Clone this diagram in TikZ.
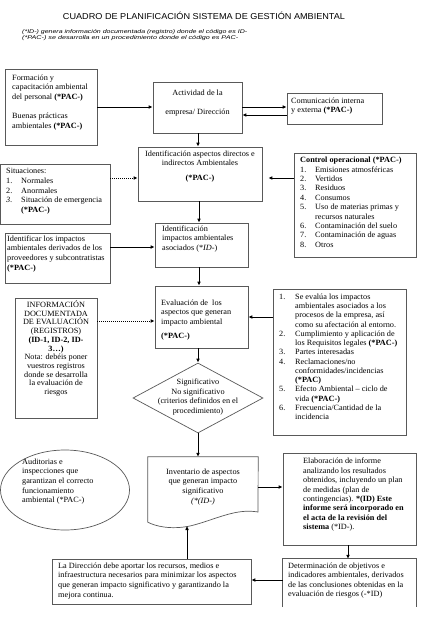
\documentclass[tikz,border=0pt]{standalone}
\usepackage{fontspec}
\usepackage{graphicx}
\setmainfont{Liberation Serif}[FakeStretch=1.03]
\newfontfamily\titlefont{Liberation Sans}
\usetikzlibrary{arrows.meta,shapes.geometric,calc}
\newcommand\lstnum[1]{\makebox[15pt][l]{#1}}
\newcommand\lstind{\hspace*{15pt}}
\newcommand\lstnumb[1]{\makebox[16pt][l]{#1}}
\newcommand\lstindb{\hspace*{16pt}}
\tikzset{
  x=1pt,y=-1pt,
  box/.style={draw=black!65,line width=0.7pt,inner sep=0pt},
  boxline/.style={draw=black!65,line width=0.7pt},
  txt/.style={inner sep=0pt,anchor=north west,align=left,font=\fontsize{8}{9.6}\selectfont},
  ctxt/.style={inner sep=0pt,align=center,font=\fontsize{8}{9.6}\selectfont},
  arr/.style={-{Latex[length=4pt,width=3.8pt]},line width=1pt},
  darr/.style={arr,dash pattern=on 1pt off 1pt},
}
\begin{document}
\begin{tikzpicture}
\useasboundingbox (0,0) rectangle (433,640);
\fill[white] (0,0) rectangle (433,640);

% title and notes
\node (title) at (204,15.5) {\resizebox{282pt}{\height}{\titlefont\fontsize{8.6}{10}\selectfont CUADRO DE PLANIFICACIÓN SISTEMA DE GESTIÓN AMBIENTAL}};
\node[inner sep=0pt,anchor=west] (note1) at (22,32.5) {\resizebox{225pt}{\height}{\titlefont\itshape\fontsize{5.4}{6}\selectfont (*ID-) genera información documentada (registro) donde el código es ID-}};
\node[inner sep=0pt,anchor=west] (note2) at (22,38.5) {\resizebox{216pt}{\height}{\titlefont\itshape\fontsize{5.4}{6}\selectfont (*PAC-) se desarrolla en un procedimiento donde el código es PAC-}};

% boxes
\node[box,minimum width=92pt,minimum height=76pt] (b1) at (51,107) {};
\node[box,minimum width=89pt,minimum height=51pt] (b2) at (197.5,107.5) {};
\node[box,minimum width=95pt,minimum height=31pt] (b3) at (334.5,108.5) {};
\node[box,minimum width=124pt,minimum height=54pt] (b4) at (200,174) {};
\node[box,minimum width=109.5pt,minimum height=60pt] (sit) at (55.25,194) {};
\node[box,minimum width=122pt,minimum height=104pt] (ctrl) at (355,205) {};
\node[box,minimum width=93pt,minimum height=44pt] (b5) at (201.5,245) {};
\node[box,minimum width=105pt,minimum height=50pt] (ident) at (57.5,258) {};
\node[box,minimum width=93pt,minimum height=62pt] (b6) at (201.5,317) {};
\node[box,minimum width=82pt,minimum height=120pt] (info) at (56,358) {};
\node[box,minimum width=133pt,minimum height=146pt] (list) at (339.5,362) {};
\node[box,diamond,minimum width=130pt,minimum height=70pt] (dia) at (198,398) {};
\node[box,ellipse,minimum width=129pt,minimum height=80pt] (aud) at (65,490) {};
\node[inner sep=0pt,minimum width=110pt,minimum height=65pt] (inv) at (203,489.5) {};
\draw[boxline] (inv.north west) -- (inv.north east) -- (258,512)
  .. controls (235,508) and (215,520) .. (190,526)
  .. controls (170,530) and (155,526) .. (inv.south west) -- cycle;
\coordinate (invb) at (187,526);
\node[box,minimum width=133pt,minimum height=92pt] (elab) at (349.5,499) {};
\node[inner sep=0pt,minimum width=133pt,minimum height=48pt] (det) at (349.5,583) {};
\draw[boxline] (det.south west) -- (det.north west) -- (det.north east) -- (det.south east);
\node[box,minimum width=199pt,minimum height=45pt] (dir) at (151.5,581.5) {};

% texts
\node[txt] (t1) at (12,74.5) {Formación y\\capacitación ambiental\\del personal \textbf{(*PAC-)}\\[9.6pt]Buenas prácticas\\ambientales \textbf{(*PAC-)}};
\node[ctxt] (t2) at (197.5,103.5) {Actividad de la\\[9.4pt]empresa/ Dirección};
\node[txt,anchor=west] (t3) at (291,106) {Comunicación interna\\y externa \textbf{(*PAC-)}};
\node[ctxt,anchor=north] (t4) at (200,150.5) {Identificación aspectos directos e\\indirectos Ambientales\\[5pt]\textbf{(*PAC-)}};
\node[txt] (tsit) at (6,168.5) {Situaciones:\\\lstnum{1.}Normales\\\lstnum{2.}Anormales\\\lstnum{\textit{3.}}Situación de emergencia\\\lstind\textbf{(*PAC-)}};
\node[txt,font=\fontsize{8}{9.4}\selectfont] (tctrl) at (300,157) {\textbf{Control operacional (*PAC-)}\\\lstnum{1.}Emisiones atmosféricas\\\lstnum{2.}Vertidos\\\lstnum{3.}Residuos\\\lstnum{4.}Consumos\\\lstnum{5.}Uso de materias primas y\\\lstind recursos naturales\\\lstnum{6.}Contaminación del suelo\\\lstnum{7.}Contaminación de aguas\\\lstnum{8.}Otros};
\node[txt] (t5) at (162,225.5) {Identificación\\impactos ambientales\\asociados (*\textit{ID-})};
\node[txt] (tident) at (7,235.5) {Identificar los impactos\\ambientales derivados de los\\proveedores y subcontratistas\\\textbf{(*PAC-)}};
\node[txt] (t6) at (161,299.5) {Evaluación de\ \ los\\aspectos que generan\\impacto ambiental\\[4.4pt]\textbf{(*PAC-)}};
\node[ctxt,anchor=north,font=\fontsize{8}{8.7}\selectfont] (tinfo) at (56,300.5) {INFORMACIÓN\\DOCUMENTADA\\DE EVALUACIÓN\\(REGISTROS)\\\textbf{(ID-1, ID-2, ID-}\\\textbf{3…)}\\Nota: debéis poner\\vuestros registros\\donde se desarrolla\\la evaluación de\\riesgos};
\node[txt,font=\fontsize{8}{9.25}\selectfont] (tlist) at (279,293.5) {\lstnumb{1.}Se evalúa los impactos\\\lstindb ambientales asociados a los\\\lstindb procesos de la empresa, así\\\lstindb como su afectación al entorno.\\\lstnumb{2.}Cumplimiento y aplicación de\\\lstindb los Requisitos legales \textbf{(*PAC-)}\\\lstnumb{3.}Partes interesadas\\\lstnumb{4.}Reclamaciones/no\\\lstindb conformidades/incidencias\\\lstindb\textbf{(*PAC)}\\\lstnumb{5.}Efecto Ambiental – ciclo de\\\lstindb vida \textbf{(*PAC-)}\\\lstnumb{6.}Frecuencia/Cantidad de la\\\lstindb incidencia};
\node[ctxt] (tdia) at (198,397) {Significativo\\No significativo\\(criterios definidos en el\\procedimiento)};
\node[txt] (taud) at (22,458.5) {Auditorias e\\inspecciones que\\garantizan el correcto\\funcionamiento\\ambiental (*PAC-)};
\node[ctxt,anchor=north] (tinv) at (203,468.5) {Inventario de aspectos\\que generan impacto\\significativo\\\textit{(*(ID-)}};
\node[txt,font=\fontsize{8}{9.4}\selectfont] (telab) at (303,458) {Elaboración de informe\\analizando los resultados\\obtenidos, incluyendo un plan\\de medidas (plan de\\contingencias). \textbf{*(ID) Este}\\\textbf{informe será incorporado en}\\\textbf{el acta de la revisión del}\\\textbf{sistema} (*ID-).};
\node[txt,font=\fontsize{8}{9.5}\selectfont] (tdet) at (288,562.5) {Determinación de objetivos e\\indicadores ambientales, derivados\\de las conclusiones obtenidas en la\\evaluación de riesgos (-*ID)};
\node[txt,font=\fontsize{8}{9.6}\selectfont] (tdir) at (58,562.5) {La Dirección debe aportar los recursos, medios e\\infraestructura necesarios para minimizar los aspectos\\que generan impacto significativo y garantizando la\\mejora continua.};

% connectors
\draw[arr] (b1.east) -- (b1.east -| b2.west);
\draw[arr] (b2.east |- 0,107) -- (b3.west |- 0,107);
\draw[arr] (b3.west |- 0,115) -- (b2.east |- 0,115);
\draw[arr] (b2.south -| 198,0) -- (b4.north -| 198,0);
\draw[darr] (sit.east |- 0,178) -- (b4.west |- 0,178);
\draw[arr,shorten >=6pt] (ctrl.west |- 0,178) -- (b4.east |- 0,178);
\draw[arr] (b4.south -| 199,0) -- (b5.north -| 199,0);
\draw[arr] (ident.east |- 0,247) -- (b5.west |- 0,247);
\draw[arr] (b5.south -| 199,0) -- (b6.north -| 199,0);
\draw[darr] (info.east |- 0,321) -- (b6.west |- 0,321);
\draw[arr] (list.west |- 0,317) -- (b6.east |- 0,317);
\draw[arr] (dia.north |- b6.south) -- (dia.north);
\draw[arr] (dia.south) -- (dia.south |- inv.north);
\draw[arr] (inv.east |- 0,487) -- (elab.west |- 0,487);
\draw[arr] (elab.south -| 348,0) -- (det.north -| 348,0);
\draw[arr] (det.west |- 0,580) -- (dir.east |- 0,580);
\draw[arr] (dir.north -| invb) -- (invb);
\end{tikzpicture}
\end{document}
